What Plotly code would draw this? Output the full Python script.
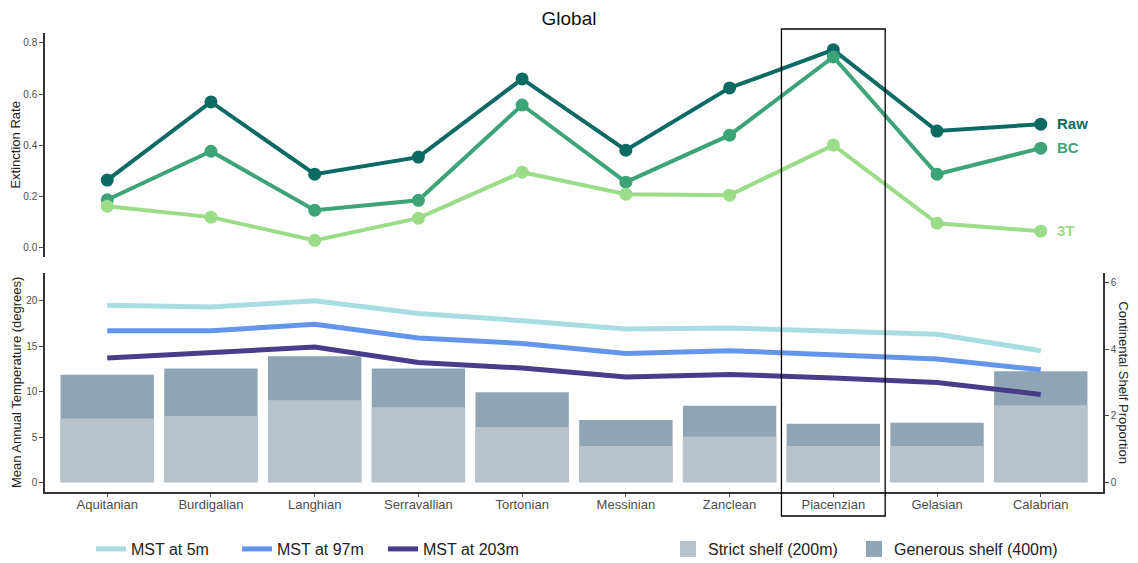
import plotly.graph_objects as go

# Geological stages (Miocene to Pleistocene)
stages = ["Aquitanian", "Burdigalian", "Langhian", "Serravallian", "Tortonian",
          "Messinian", "Zanclean", "Piacenzian", "Gelasian", "Calabrian"]

# Extinction rates
raw_rate = [0.263, 0.569, 0.286, 0.353, 0.659, 0.380, 0.624, 0.773, 0.455, 0.482]
bc_rate = [0.186, 0.376, 0.145, 0.184, 0.557, 0.255, 0.439, 0.745, 0.286, 0.388]
t3_rate = [0.161, 0.118, 0.027, 0.114, 0.294, 0.208, 0.204, 0.400, 0.094, 0.063]

# Mean annual sea temperature at three depths (degrees)
mst_5m = [19.5, 19.3, 20.0, 18.6, 17.8, 16.9, 17.0, 16.7, 16.3, 14.5]
mst_97m = [16.7, 16.7, 17.4, 15.9, 15.3, 14.2, 14.5, 14.1, 13.6, 12.4]
mst_203m = [13.7, 14.3, 14.9, 13.2, 12.6, 11.6, 11.9, 11.5, 11.0, 9.7]

# Continental shelf proportion
strict_shelf = [1.92, 1.99, 2.47, 2.26, 1.66, 1.09, 1.38, 1.09, 1.09, 2.32]
generous_shelf = [3.23, 3.42, 3.79, 3.42, 2.71, 1.87, 2.30, 1.76, 1.79, 3.34]

highlight_stage = "Piacenzian"

FONT = "Liberation Sans, Arial, sans-serif"
TICK_COL = "#4d4d4d"
AXIS_COL = "#333333"
STRICT_COL = "#B8C2CB"
GENEROUS_COL = "#8FA5B6"

rate_series = [
    ("Raw", raw_rate, "#0B6A62"),
    ("BC", bc_rate, "#3DA479"),
    ("3T", t3_rate, "#9BDC89"),
]
mst_series = [
    ("MST at 5m", mst_5m, "#A8DDE2"),
    ("MST at 97m", mst_97m, "#6495ED"),
    ("MST at 203m", mst_203m, "#483D8B"),
]

fig = go.Figure()

# Shelf bars: generous behind, strict in front (right-hand axis)
fig.add_trace(go.Bar(
    x=stages, y=generous_shelf, name="Generous shelf (400m)",
    marker=dict(color=GENEROUS_COL, line=dict(width=0)), width=0.9,
    xaxis="x2", yaxis="y2", showlegend=False,
))
fig.add_trace(go.Bar(
    x=stages, y=strict_shelf, name="Strict shelf (200m)",
    marker=dict(color=STRICT_COL, line=dict(width=0)), width=0.9,
    xaxis="x2", yaxis="y2", showlegend=False,
))
# Square legend keys for the shelf bars, each in its own legend box
for name, col, leg in [("Strict shelf (200m)", STRICT_COL, "legend2"),
                       ("Generous shelf (400m)", GENEROUS_COL, "legend3")]:
    fig.add_trace(go.Scatter(
        x=[None], y=[None], name=name, mode="markers",
        marker=dict(symbol="square", size=20, color=col),
        xaxis="x2", yaxis="y2", legend=leg,
    ))

# Temperature lines (left-hand axis, drawn above bars)
for name, vals, col in mst_series:
    fig.add_trace(go.Scatter(
        x=stages, y=vals, name=name, mode="lines",
        line=dict(color=col, width=5),
        xaxis="x2", yaxis="y3", legend="legend",
    ))

# Extinction rate lines with end labels
for name, vals, col in rate_series:
    fig.add_trace(go.Scatter(
        x=stages, y=vals, name=name, mode="lines+markers",
        line=dict(color=col, width=4), marker=dict(color=col, size=13),
        xaxis="x", yaxis="y", showlegend=False,
    ))
    fig.add_annotation(
        x=stages[-1], y=vals[-1], xref="x", yref="y", text=f"<b>{name}</b>",
        showarrow=False, xanchor="left", xshift=14, yshift=1,
        font=dict(family=FONT, size=15, color=col),
    )

x_range = [-0.6, 9.6]
hl = stages.index(highlight_stage)

common_y = dict(showline=True, linecolor=AXIS_COL, linewidth=1.5,
                ticks="outside", ticklen=4, tickcolor=TICK_COL,
                tickfont=dict(size=10, color=TICK_COL), showgrid=False,
                zeroline=False, automargin=False)


def bottom_legend(x_px):
    return dict(orientation="h", xref="container", yref="container",
                x=x_px / 1138, y=14 / 563, xanchor="left", yanchor="middle",
                font=dict(size=16, color="#222222"), bgcolor="rgba(0,0,0,0)")


fig.update_layout(
    width=1138, height=563,
    margin=dict(l=45, r=35, t=33, b=71),
    paper_bgcolor="white", plot_bgcolor="white",
    font=dict(family=FONT, color="#222222"),
    title=dict(text="Global", x=0.5, xanchor="center", y=0.968, yanchor="middle",
               font=dict(family=FONT, size=19, color="#111111")),
    barmode="overlay", bargap=0.1,
    xaxis=dict(domain=[0, 1], anchor="y", range=x_range, type="category",
               categoryorder="array", categoryarray=stages,
               showline=False, showticklabels=False, ticks="", showgrid=False,
               zeroline=False, automargin=False),
    yaxis=dict(domain=[0.5126, 1], anchor="x", range=[-0.037, 0.839],
               tickvals=[0, 0.2, 0.4, 0.6, 0.8], ticktext=["0.0", "0.2", "0.4", "0.6", "0.8"],
               title=dict(text="Extinction Rate", font=dict(size=13, color="#222222"), standoff=0),
               **common_y),
    xaxis2=dict(domain=[0, 1], anchor="y2", range=x_range, type="category",
                categoryorder="array", categoryarray=stages,
                showline=True, linecolor=AXIS_COL, linewidth=1.5,
                ticks="outside", ticklen=3, tickcolor=TICK_COL,
                tickfont=dict(size=13, color=TICK_COL), showgrid=False, zeroline=False,
                automargin=False, ticklabelstandoff=-3),
    yaxis2=dict(domain=[0, 0.4778], anchor="x2", side="right", range=[-0.29, 6.30],
                tickvals=[0, 2, 4, 6], **common_y),
    yaxis3=dict(overlaying="y2", anchor="x2", side="left", range=[-1.03, 23.08],
                tickvals=[0, 5, 10, 15, 20],
                title=dict(text="Mean Annual Temperature (degrees)",
                           font=dict(size=13, color="#222222"), standoff=2),
                **common_y),
    legend=dict(bottom_legend(91), entrywidth=101, entrywidthmode="pixels"),
    legend2=bottom_legend(668),
    legend3=bottom_legend(854),
)

# Right-hand axis title, reading top to bottom
fig.add_annotation(
    x=1 + (1124 - 1103) / 1058, y=0.2389, xref="paper", yref="paper",
    text="Continental Shelf Proportion", textangle=90, showarrow=False,
    font=dict(family=FONT, size=13, color="#222222"), xanchor="center", yanchor="middle",
)

# Frame around the highlighted stage spanning both panels
fig.add_shape(type="rect", xref="x2", yref="paper",
              x0=hl - 0.5, x1=hl + 0.5, y0=-0.0523, y1=1.0087,
              line=dict(color="black", width=1.3), fillcolor="rgba(0,0,0,0)", layer="above")

fig.write_html("out.html")
